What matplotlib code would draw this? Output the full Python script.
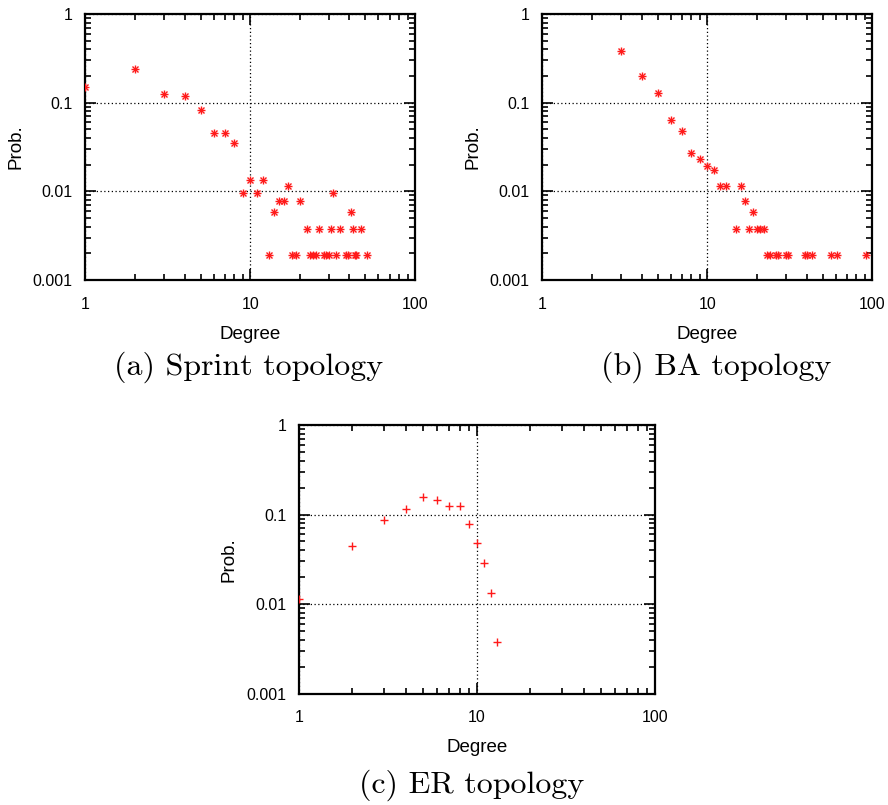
import matplotlib
matplotlib.use("Agg")
import matplotlib.pyplot as plt
from matplotlib.ticker import LogLocator, FixedLocator, FixedFormatter, NullFormatter

# degree distributions
sprint_deg = [1, 2, 3, 4, 5, 6, 7, 8, 9, 10, 11, 12, 13, 14, 15, 16, 17, 18, 19, 20,
              22, 23, 24, 25, 26, 28, 29, 30, 31, 32, 33, 35, 38, 39, 41, 42, 43, 44, 47, 51]
sprint_prob = [0.15, 0.24, 0.125, 0.12, 0.083, 0.046, 0.046, 0.035, 0.0096, 0.0135,
               0.0096, 0.0135, 0.0019, 0.0058, 0.0077, 0.0077, 0.0115, 0.0019, 0.0019, 0.0077,
               0.0038, 0.0019, 0.0019, 0.0019, 0.0038, 0.0019, 0.0019, 0.0019, 0.0038, 0.0096,
               0.0019, 0.0038, 0.0019, 0.0019, 0.0058, 0.0038, 0.0019, 0.0019, 0.0038, 0.0019]

ba_deg = [3, 4, 5, 6, 7, 8, 9, 10, 11, 12, 13, 15, 16, 17, 18, 19, 20, 21, 22,
          23, 24, 26, 27, 30, 31, 39, 40, 43, 56, 61, 92]
ba_prob = [0.38, 0.2, 0.13, 0.064, 0.048, 0.027, 0.023, 0.0193, 0.0173, 0.0115, 0.0115,
           0.0038, 0.0115, 0.0077, 0.0038, 0.0058, 0.0038, 0.0038, 0.0038,
           0.0019, 0.0019, 0.0019, 0.0019, 0.0019, 0.0019, 0.0019, 0.0019, 0.0019,
           0.0019, 0.0019, 0.0019]

er_deg = [1, 2, 3, 4, 5, 6, 7, 8, 9, 10, 11, 12, 13]
er_prob = [0.0115, 0.044, 0.087, 0.114, 0.156, 0.147, 0.126, 0.126, 0.0785, 0.0477,
           0.0288, 0.0134, 0.0038]

x_ticks = [1, 10, 100]
x_labels = ["1", "10", "100"]
y_ticks = [0.001, 0.01, 0.1, 1]
y_labels = ["0.001", "0.01", "0.1", "1"]

sans = "Liberation Sans"
red = "#ff1a1a"

fig = plt.figure(figsize=(8.88, 8.05), dpi=100)
ax_a = fig.add_axes([0.0961, 0.6522, 0.3713, 0.3304])
ax_b = fig.add_axes([0.6107, 0.6522, 0.3716, 0.3304])
ax_c = fig.add_axes([0.3364, 0.1383, 0.4012, 0.3338])


def style(ax):
    ax.set_xscale("log")
    ax.set_yscale("log")
    ax.set_xlim(1, 100)
    ax.set_ylim(0.001, 1)
    ax.xaxis.set_major_locator(FixedLocator(x_ticks))
    ax.xaxis.set_major_formatter(FixedFormatter(x_labels))
    ax.yaxis.set_major_locator(FixedLocator(y_ticks))
    ax.yaxis.set_major_formatter(FixedFormatter(y_labels))
    ax.xaxis.set_minor_locator(LogLocator(base=10, subs=range(2, 10)))
    ax.yaxis.set_minor_locator(LogLocator(base=10, subs=range(2, 10)))
    ax.xaxis.set_minor_formatter(NullFormatter())
    ax.yaxis.set_minor_formatter(NullFormatter())
    ax.tick_params(which="both", direction="in", top=True, right=True,
                   color="black", width=1.2)
    ax.tick_params(which="major", length=8, labelsize=11.5)
    ax.tick_params(axis="x", which="major", pad=12)
    ax.tick_params(axis="y", which="major", pad=9)
    ax.tick_params(which="minor", length=4)
    for t in ax.get_xticklabels() + ax.get_yticklabels():
        t.set_fontfamily(sans)
    for s in ax.spines.values():
        s.set_linewidth(1.6)
    ax.grid(True, which="major", linestyle=(0, (1, 2)), color="black", linewidth=0.9)
    ax.set_xlabel("Degree", fontsize=13.5, fontfamily=sans, labelpad=10)
    ax.set_ylabel("Prob.", fontsize=13.5, fontfamily=sans, labelpad=6)


def star(ax, x, y):
    ax.plot(x, y, linestyle="none", marker="+", ms=5.5, mew=1.0, color=red, zorder=3)
    ax.plot(x, y, linestyle="none", marker="x", ms=4.2, mew=1.0, color=red, zorder=3)


for ax in (ax_a, ax_b, ax_c):
    style(ax)

star(ax_a, sprint_deg, sprint_prob)
star(ax_b, ba_deg, ba_prob)
ax_c.plot(er_deg, er_prob, linestyle="none", marker="+", ms=5.5, mew=1.0, color=red, zorder=3)

cap = dict(fontsize=23, fontfamily="cmr10", ha="center", va="center")
fig.text(249 / 888, 1 - 367 / 805, "(a) Sprint topology", **cap)
fig.text(716 / 888, 1 - 367 / 805, "(b) BA topology", **cap)
fig.text(472 / 888, 1 - 785 / 805, "(c) ER topology", **cap)

fig.savefig("out.png", dpi=100)
